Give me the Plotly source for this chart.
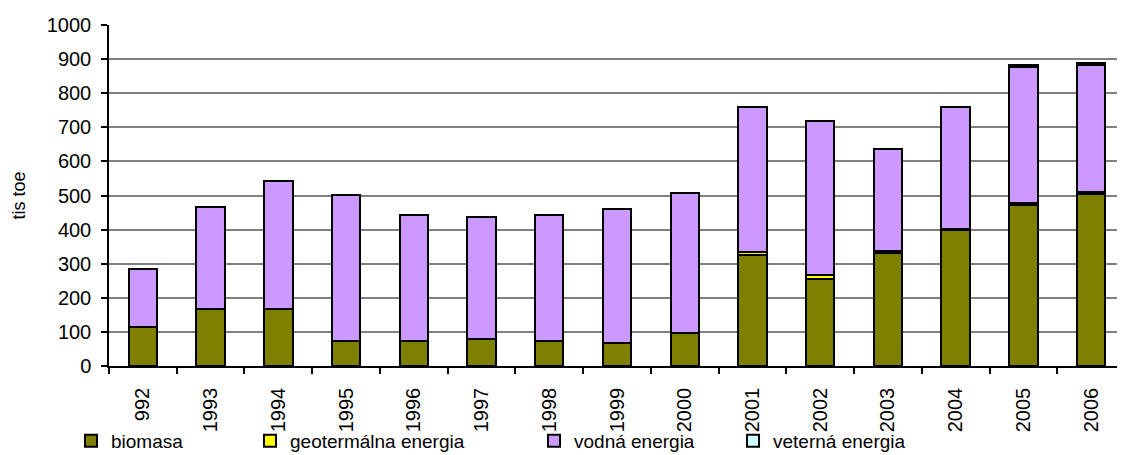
import plotly.graph_objects as go

years = ["992", "1993", "1994", "1995", "1996", "1997", "1998", "1999",
         "2000", "2001", "2002", "2003", "2004", "2005", "2006"]
biomasa = [115, 167, 167, 74, 74, 79, 74, 68, 98, 325, 255, 332, 398, 472, 503]
geotermalna = [0, 0, 0, 0, 0, 0, 0, 0, 0, 10, 12, 5, 5, 6, 6]
vodna = [169, 300, 375, 428, 370, 359, 370, 392, 410, 424, 451, 299, 356, 400, 373]
veterna = [0, 0, 0, 0, 0, 0, 0, 0, 0, 0, 0, 0, 0, 5, 6]

series = [
    ("biomasa", biomasa, "#808000", "legend", -0.0374),
    ("geotermálna energia", geotermalna, "#FFFF00", "legend2", 0.1388),
    ("vodná energia", vodna, "#CC99FF", "legend3", 0.4183),
    ("veterná energia", veterna, "#CCFFFF", "legend4", 0.6142),
]

FONT = "Liberation Sans, Arial, sans-serif"
fig = go.Figure()
for name, vals, color, leg, _ in series:
    fig.add_trace(go.Bar(
        x=years, y=vals, name=name, legend=leg,
        marker=dict(color=color, line=dict(color="#000000", width=2)),
    ))

layout_legends = {}
for name, vals, color, leg, xpos in series:
    layout_legends[leg] = dict(
        x=xpos, y=-0.22, xanchor="left", yanchor="middle",
        orientation="h", bgcolor="rgba(0,0,0,0)",
        font=dict(family=FONT, size=19, color="#000000"),
        itemwidth=30,
    )

# page body has an 8px margin: figure origin sits at (8, 8)
fig.update_layout(
    width=1117, height=447,
    margin=dict(l=101, r=0, t=17, b=89, autoexpand=False),
    paper_bgcolor="white", plot_bgcolor="white",
    barmode="stack", bargap=0.58,
    font=dict(family=FONT, size=19, color="#000000"),
    showlegend=True,
    **layout_legends,
)
fig.update_xaxes(
    type="category", tickangle=-90, tickson="boundaries",
    ticks="outside", ticklen=6, tickcolor="#000000", tickwidth=1.5,
    showline=True, linecolor="#000000", linewidth=1.5,
    showgrid=False, tickfont=dict(family=FONT, size=20),
    ticklabelstandoff=12, automargin=False,
)
fig.update_yaxes(
    range=[0, 1000], dtick=100, ticks="outside", ticklen=6,
    tickcolor="#000000", tickwidth=1.5, showline=True, linecolor="#000000",
    linewidth=1.5, showgrid=True, gridcolor="#808080", gridwidth=1.5,
    tickfont=dict(family=FONT, size=20), ticklabelstandoff=6,
    title=dict(text="tis toe", font=dict(family=FONT, size=18), standoff=16),
    zeroline=False, automargin=False,
)
fig.write_html("out.html")
